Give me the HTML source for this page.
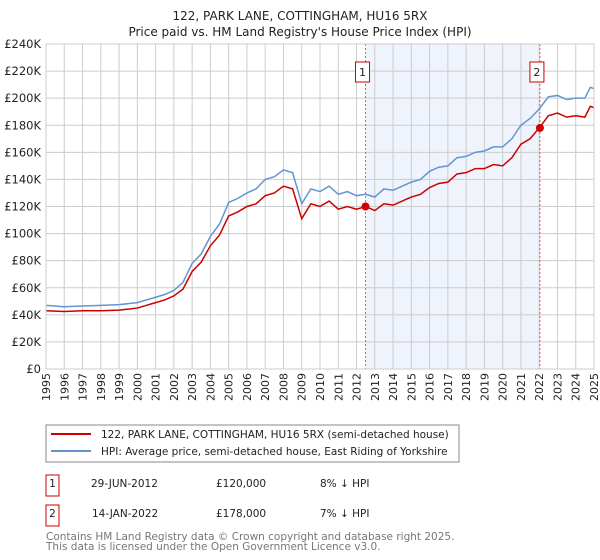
<!DOCTYPE html>
<html><head><meta charset="utf-8"><style>
body{margin:0;background:#fff;font-family:"DejaVu Sans","Liberation Sans",sans-serif;}
svg{display:block}
</style></head><body>
<svg id="c" width="600" height="560" xmlns="http://www.w3.org/2000/svg" font-family="DejaVu Sans, Liberation Sans, sans-serif">
<text x="300" y="20" text-anchor="middle" font-size="12" fill="#222">122, PARK LANE, COTTINGHAM, HU16 5RX</text>
<text x="300" y="36" text-anchor="middle" font-size="12" fill="#222">Price paid vs. HM Land Registry's House Price Index (HPI)</text>
<g id="plot"></g>
<g>
<rect x="46" y="425" width="413" height="37" fill="#fff" stroke="#888"/>
<line x1="51" y1="434" x2="91" y2="434" stroke="#cc0000" stroke-width="2"/>
<text x="101" y="438" font-size="10.5" fill="#222">122, PARK LANE, COTTINGHAM, HU16 5RX (semi-detached house)</text>
<line x1="51" y1="451" x2="91" y2="451" stroke="#6495d2" stroke-width="2"/>
<text x="101" y="455" font-size="10.5" fill="#222">HPI: Average price, semi-detached house, East Riding of Yorkshire</text>
</g>
<g font-size="10.5" fill="#222">
<rect x="46" y="475" width="13" height="21" fill="#fff" stroke="#cc0000"/><text x="52.5" y="487" text-anchor="middle">1</text>
<text x="91" y="487">29-JUN-2012</text><text x="216" y="487">£120,000</text><text x="320" y="487">8% ↓ HPI</text>
<rect x="46" y="505" width="13" height="21" fill="#fff" stroke="#cc0000"/><text x="52.5" y="517" text-anchor="middle">2</text>
<text x="92" y="517">14-JAN-2022</text><text x="216" y="517">£178,000</text><text x="320" y="517">7% ↓ HPI</text>
</g>
<text x="46" y="540" font-size="10.5" fill="#777">Contains HM Land Registry data © Crown copyright and database right 2025.</text>
<text x="46" y="550" font-size="10.5" fill="#777">This data is licensed under the Open Government Licence v3.0.</text>
</svg>
<script>
const hpiYears=[1995,1996,1997,1998,1999,2000,2001,2001.5,2002,2002.5,2003,2003.5,2004,2004.5,2005,2005.5,2006,2006.5,2007,2007.5,2008,2008.5,2009,2009.5,2010,2010.5,2011,2011.5,2012,2012.5,2013,2013.5,2014,2014.5,2015,2015.5,2016,2016.5,2017,2017.5,2018,2018.5,2019,2019.5,2020,2020.5,2021,2021.5,2022,2022.5,2023,2023.5,2024,2024.5,2024.8,2025];
const hpiValues=[47,46,46.5,47,47.5,49,53,55,58,64,78,85,98,107,123,126,130,133,140,142,147,145,122,133,131,135,129,131,128,129,127,133,132,135,138,140,146,149,150,156,157,160,161,164,164,170,180,185,192,201,202,199,200,200,208,207];
const priceValues=[43,42.5,43,43,43.5,45,49,51,54,59,72,79,91,99,113,116,120,122,128,130,135,133,111,122,120,124,118,120,118,120,117,122,121,124,127,129,134,137,138,144,145,148,148,151,150,156,166,170,178,187,189,186,187,186,194,193];
const saleDates=[2012.49,2022.04];
const salePrices=[120,178];
const saleLabels=["1","2"];
const yTicks=[0,20,40,60,80,100,120,140,160,180,200,220,240];
const NS="http://www.w3.org/2000/svg";
const X0=46,X1=594,Y0=369,Y1=44;
const xs=v=>X0+(v-1995)/30*(X1-X0);
const ys=v=>Y0-v/240*(Y0-Y1);
const g=document.getElementById('plot');
function mk(t,a){const e=document.createElementNS(NS,t);for(const k in a)e.setAttribute(k,a[k]);g.appendChild(e);return e;}
let r=mk('rect',{x:xs(saleDates[0]),y:Y1,width:xs(saleDates[1])-xs(saleDates[0]),height:Y0-Y1,fill:'#eef3fc'});


for(let y=1995;y<=2025;y++){
 let l=mk('line',{x1:xs(y),x2:xs(y),y1:Y1,y2:Y0,stroke:'#ccc','stroke-width':1});
 
 
 let t=mk('text',{x:0,y:0,'font-size':11,fill:'#222','text-anchor':'end',transform:`translate(${xs(y)+4},${Y0+4}) rotate(-90)`});
 t.textContent=y;
 
 
}
yTicks.forEach(v=>{
 let l=mk('line',{x1:X0,x2:X1,y1:ys(v),y2:ys(v),stroke:'#ccc','stroke-width':1});
 
 
 let t=mk('text',{x:X0-5,y:ys(v)+4,'font-size':11.5,fill:'#222','text-anchor':'end'});
 t.textContent=v===0?'£0':'£'+v+'K';
 
 
});
saleDates.forEach((d,i)=>{
 let l=mk('line',{x1:xs(d),x2:xs(d),y1:Y1,y2:Y0,stroke:'#e06060','stroke-width':1,'stroke-dasharray':'2,2'});
 
 
 let b=mk('rect',{x:xs(d)-10,y:62,width:14,height:20,fill:'#fff',stroke:'#cc0000'});
 
 
 let t=mk('text',{x:xs(d)-3,y:76,'font-size':11,fill:'#222','text-anchor':'middle'});
 t.textContent=saleLabels[i];
 
 
});
const line=(vals,col,name)=>{let p=mk('polyline',{points:hpiYears.map((y,i)=>xs(y)+','+ys(vals[i])).join(' '),fill:'none',stroke:col,'stroke-width':1.5});
 
 };
line(hpiValues,'#6495d2','hpi-line');
line(priceValues,'#cc0000','price-paid-line');
saleDates.forEach((d,i)=>{
 let c=mk('circle',{cx:xs(d),cy:ys(salePrices[i]),r:4,fill:'#cc0000'});
 
 
});
let f=mk('rect',{x:X0,y:Y1,width:X1-X0,height:Y0-Y1,fill:'none',stroke:'#ccc'});


</script>
</body></html>
